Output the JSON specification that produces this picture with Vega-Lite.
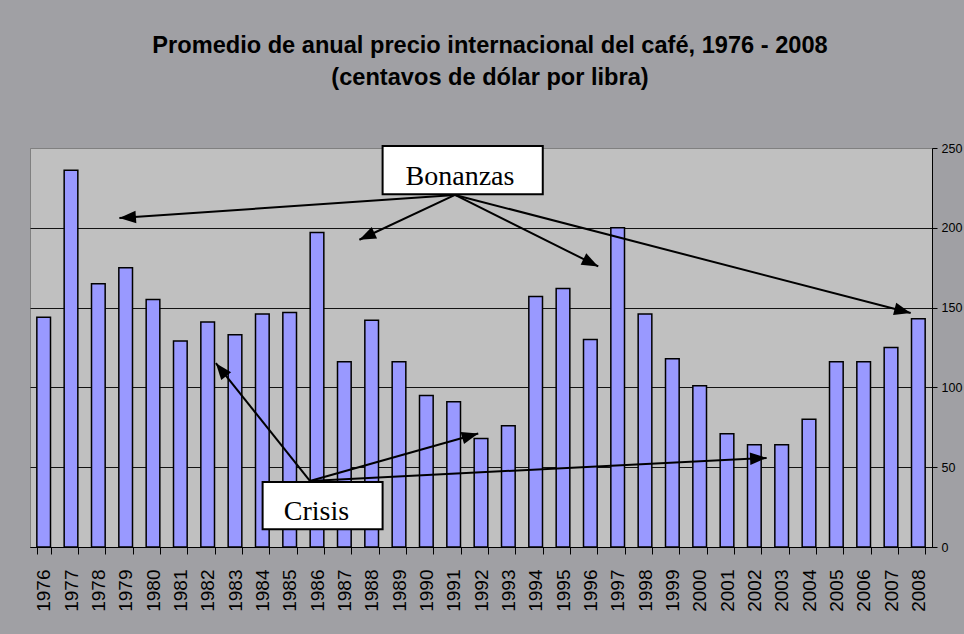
{
  "$schema": "https://vega.github.io/schema/vega-lite/v6.json",
  "width": 902,
  "height": 399,
  "autosize": {"type": "none"},
  "padding": {"left": 30, "top": 148, "right": 32, "bottom": 87},
  "background": "#A0A0A4",
  "title": {
    "text": ["Promedio de anual precio internacional del café, 1976 - 2008", "(centavos de dólar por libra)"],
    "font": "Liberation Sans",
    "fontSize": 23.6,
    "fontWeight": "bold",
    "color": "black",
    "lineHeight": 32,
    "anchor": "middle",
    "offset": 52,
    "dx": 9
  },
  "config": {
    "view": {"fill": "#C0C0C0", "stroke": "#808080", "strokeWidth": 1},
    "font": "Liberation Sans",
    "axisY": {
      "grid": true,
      "gridColor": {"condition": {"test": "datum.value === 250", "value": "#808080"}, "value": "black"},
      "gridOpacity": 0.9,
      "labelFontSize": 12.5, "labelColor": "black", "labelPadding": 4, "labelFont": "Liberation Sans",
      "tickColor": "black", "tickSize": 5, "domainColor": "black"
    }
  },
  "datasets": {
    "precios": [
      {"anio": "1976", "precio": 144}, {"anio": "1977", "precio": 236}, {"anio": "1978", "precio": 165},
      {"anio": "1979", "precio": 175}, {"anio": "1980", "precio": 155}, {"anio": "1981", "precio": 129},
      {"anio": "1982", "precio": 141}, {"anio": "1983", "precio": 133}, {"anio": "1984", "precio": 146},
      {"anio": "1985", "precio": 147}, {"anio": "1986", "precio": 197}, {"anio": "1987", "precio": 116},
      {"anio": "1988", "precio": 142}, {"anio": "1989", "precio": 116}, {"anio": "1990", "precio": 95},
      {"anio": "1991", "precio": 91}, {"anio": "1992", "precio": 68}, {"anio": "1993", "precio": 76},
      {"anio": "1994", "precio": 157}, {"anio": "1995", "precio": 162}, {"anio": "1996", "precio": 130},
      {"anio": "1997", "precio": 200}, {"anio": "1998", "precio": 146}, {"anio": "1999", "precio": 118},
      {"anio": "2000", "precio": 101}, {"anio": "2001", "precio": 71}, {"anio": "2002", "precio": 64},
      {"anio": "2003", "precio": 64}, {"anio": "2004", "precio": 80}, {"anio": "2005", "precio": 116},
      {"anio": "2006", "precio": 116}, {"anio": "2007", "precio": 125}, {"anio": "2008", "precio": 143}
    ],
    "flechas": [
      {"grupo": "Bonanzas", "x0": 1991.05, "y0": 220.6, "x1": 1978.77, "y1": 206.1},
      {"grupo": "Bonanzas", "x0": 1991.05, "y0": 220.6, "x1": 1987.55, "y1": 192.5},
      {"grupo": "Bonanzas", "x0": 1991.05, "y0": 220.6, "x1": 1996.29, "y1": 175.8},
      {"grupo": "Bonanzas", "x0": 1991.05, "y0": 220.6, "x1": 2007.72, "y1": 146.6},
      {"grupo": "Crisis", "x0": 1985.74, "y0": 41.4, "x1": 1982.3, "y1": 115.2},
      {"grupo": "Crisis", "x0": 1985.74, "y0": 41.4, "x1": 1991.9, "y1": 71.1},
      {"grupo": "Crisis", "x0": 1985.74, "y0": 41.4, "x1": 2002.45, "y1": 55.8}
    ],
    "cajas": [
      {"etiqueta": "Bonanzas", "xa": 1988.4, "xb": 1994.26, "ya": 251.25, "yb": 221.06, "tx": 1991.23, "ty": 226.9},
      {"etiqueta": "Crisis", "xa": 1984.01, "xb": 1988.4, "ya": 40.8, "yb": 11.06, "tx": 1985.98, "ty": 16.9}
    ]
  },
  "layer": [
    {
      "data": {"name": "precios"},
      "mark": {"type": "bar", "fill": "#9999FF", "stroke": "black", "strokeWidth": 1.5},
      "encoding": {
        "x": {
          "field": "anio", "type": "nominal", "sort": null,
          "scale": {"paddingInner": 0.5, "paddingOuter": 0.25},
          "axis": {
            "title": null, "labelAngle": -90, "labelFontSize": 19, "labelColor": "black",
            "labelPadding": 15, "tickBand": "extent", "tickColor": "black", "tickSize": 7,
            "domainColor": "black", "domainWidth": 1, "grid": false
          }
        },
        "y": {
          "field": "precio", "type": "quantitative",
          "scale": {"domain": [0, 250], "nice": false},
          "axis": {"orient": "right", "title": null, "values": [0, 50, 100, 150, 200, 250]}
        }
      }
    },
    {
      "data": {"name": "flechas"},
      "mark": {"type": "rule", "color": "black", "strokeWidth": 2},
      "encoding": {
        "x": {"field": "x0", "type": "quantitative", "scale": {"domain": [1975.5, 2008.5], "nice": false, "zero": false}, "axis": null},
        "x2": {"field": "x1"},
        "y": {"field": "y0", "type": "quantitative"},
        "y2": {"field": "y1"}
      }
    },
    {
      "data": {"name": "flechas"},
      "transform": [
        {"calculate": "atan2((datum.x1 - datum.x0) * 27.333, (datum.y1 - datum.y0) * 1.6) * 180 / PI", "as": "ang"}
      ],
      "mark": {"type": "point", "shape": "M0,0L-0.38,1L0.38,1Z", "filled": true, "fill": "black", "opacity": 1, "size": 1100, "strokeWidth": 0},
      "encoding": {
        "x": {"field": "x1", "type": "quantitative", "scale": {"domain": [1975.5, 2008.5], "nice": false, "zero": false}, "axis": null},
        "y": {"field": "y1", "type": "quantitative"},
        "angle": {"field": "ang", "type": "quantitative", "scale": null}
      }
    },
    {
      "data": {"name": "cajas"},
      "mark": {"type": "rect", "fill": "white", "stroke": "black", "strokeWidth": 2},
      "encoding": {
        "x": {"field": "xa", "type": "quantitative", "scale": {"domain": [1975.5, 2008.5], "nice": false, "zero": false}, "axis": null},
        "x2": {"field": "xb"},
        "y": {"field": "ya", "type": "quantitative"},
        "y2": {"field": "yb"}
      }
    },
    {
      "data": {"name": "cajas"},
      "mark": {"type": "text", "font": "Liberation Serif", "fontSize": 28, "baseline": "alphabetic", "align": "center", "color": "black"},
      "encoding": {
        "x": {"field": "tx", "type": "quantitative", "scale": {"domain": [1975.5, 2008.5], "nice": false, "zero": false}, "axis": null},
        "y": {"field": "ty", "type": "quantitative"},
        "text": {"field": "etiqueta"}
      }
    }
  ],
  "resolve": {"scale": {"x": "independent"}}
}
